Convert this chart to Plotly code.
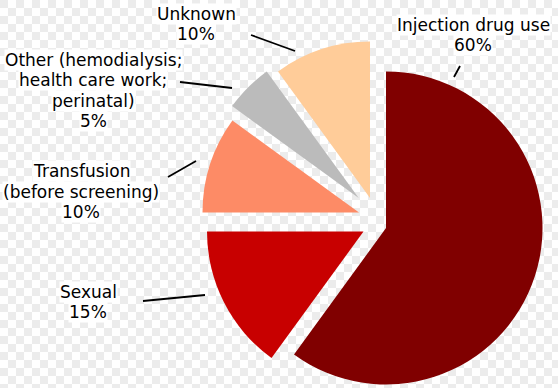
import base64
import plotly.graph_objects as go

# ---- data ----
categories = ["Injection drug use", "Sexual", "Transfusion", "Other", "Unknown"]
values = [60, 15, 10, 5, 10]
label_lines = [
    ["Injection drug use"],
    ["Sexual"],
    ["Transfusion", "(before screening)"],
    ["Other (hemodialysis;", "health care work;", "perinatal)"],
    ["Unknown"],
]

# ---- styling / layout ----
colors = ["#800000", "#c80000", "#fd8b66", "#bbbbbb", "#ffcc99"]
W, H = 558, 388
R = 156.5
# exploded slice apex positions (pixels)
apex = [(386, 228), (363.5, 231.5), (359, 212.5), (358.7, 198), (370, 198)]
label_pos = [(473, 35), (88, 302), (81, 191.5), (93, 90.5), (196, 24)]
LINE_H = 20.3
leaders = [
    ((454, 77), (460, 66)),
    ((143, 301), (205, 295)),
    ((168, 177), (196, 161)),
    ((180, 82), (232, 88)),
    ((251, 35), (295, 51)),
]

fig = go.Figure()
for i in range(len(values)):
    cx, cy = apex[i]
    x0, x1 = (cx - R) / W, (cx + R) / W
    y0, y1 = 1 - (cy + R) / H, 1 - (cy - R) / H
    fig.add_trace(go.Pie(
        labels=categories,
        values=values,
        sort=False,
        direction="clockwise",
        rotation=0,
        textinfo="none",
        hoverinfo="label+percent",
        marker=dict(colors=[colors[j] if j == i else "rgba(0,0,0,0)" for j in range(len(values))],
                    line=dict(width=0)),
        domain=dict(x=[max(0, x0), min(1, x1)], y=[max(0, y0), min(1, y1)]),
        showlegend=False,
    ))

annotations = []
for i in range(len(values)):
    x, y = label_pos[i]
    lines = label_lines[i] + [f"{values[i]}%"]
    n = len(lines)
    for k, line in enumerate(lines):
        ly = y + (k - (n - 1) / 2) * LINE_H
        annotations.append(dict(
            x=x / W, y=1 - ly / H, xref="paper", yref="paper",
            text=line,
            showarrow=False, xanchor="center", yanchor="middle",
            font=dict(family="DejaVu Sans", size=17, color="#000000"),
            bgcolor="#ffffff", borderpad=0,
        ))

shapes = []
for (a, b) in leaders:
    shapes.append(dict(type="line", xref="paper", yref="paper",
                       x0=a[0] / W, y0=1 - a[1] / H, x1=b[0] / W, y1=1 - b[1] / H,
                       line=dict(color="#000000", width=1.8)))

svg = (
    f"<svg xmlns='http://www.w3.org/2000/svg' width='{W}' height='{H}'>"
    "<defs><pattern id='p' width='16' height='16' patternUnits='userSpaceOnUse'>"
    "<rect width='16' height='16' fill='#ffffff'/>"
    "<rect width='8' height='8' fill='#ececec'/>"
    "<rect x='8' y='8' width='8' height='8' fill='#ececec'/>"
    "</pattern></defs><rect width='100%' height='100%' fill='url(#p)'/></svg>"
)
src = "data:image/svg+xml;base64," + base64.b64encode(svg.encode()).decode()

fig.update_layout(
    width=W, height=H,
    margin=dict(l=0, r=0, t=0, b=0),
    paper_bgcolor="#ffffff",
    annotations=annotations,
    shapes=shapes,
    images=[dict(source=src, xref="paper", yref="paper", x=0, y=1, sizex=1, sizey=1,
                 xanchor="left", yanchor="top", sizing="stretch", layer="below")],
)

fig.write_html("out.html",
               config={"displayModeBar": False},
               post_script="document.body.style.margin='0';document.body.style.overflow='hidden';")
